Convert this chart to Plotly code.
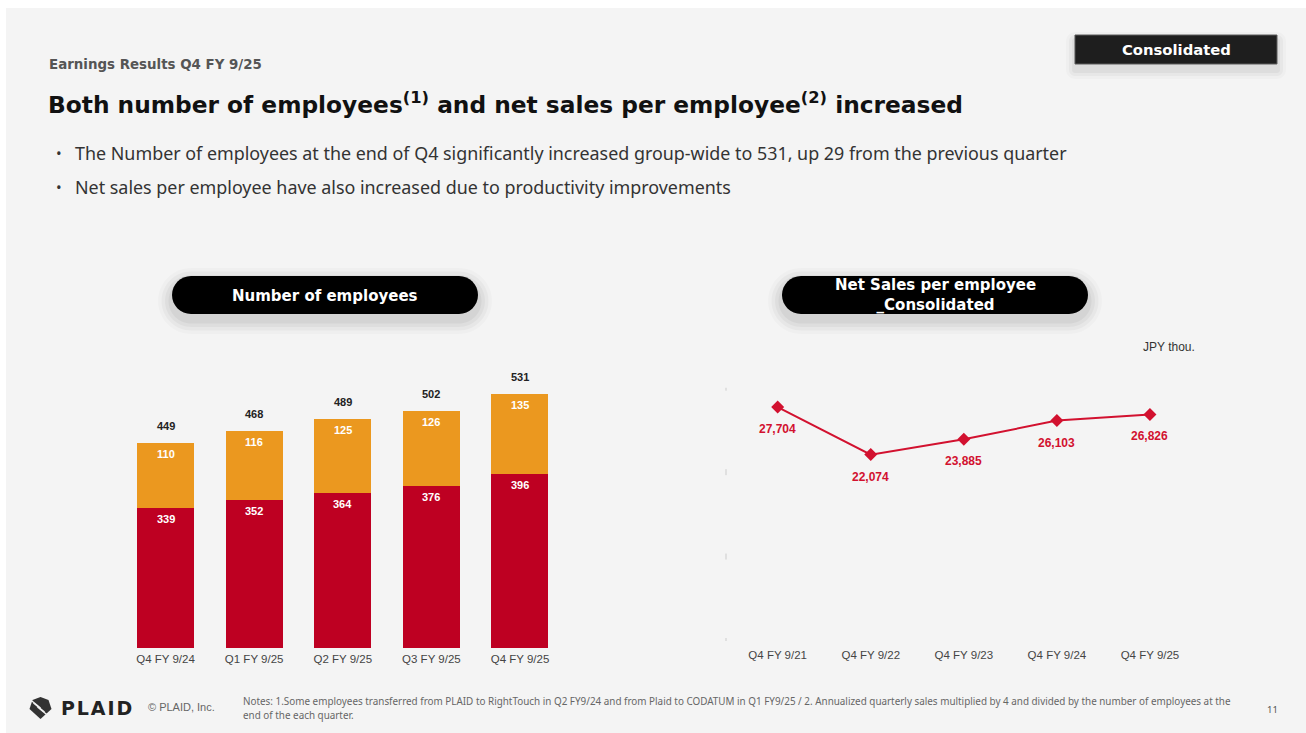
import plotly.graph_objects as go

W, H = 1306, 733

# Number of employees (stacked)
quarters = ["Q4 FY 9/24", "Q1 FY 9/25", "Q2 FY 9/25", "Q3 FY 9/25", "Q4 FY 9/25"]
employees_lower = [339, 352, 364, 376, 396]
employees_upper = [110, 116, 125, 126, 135]
employees_total = [449, 468, 489, 502, 531]

# Net sales per employee, JPY thousand
years = ["Q4 FY 9/21", "Q4 FY 9/22", "Q4 FY 9/23", "Q4 FY 9/24", "Q4 FY 9/25"]
sales_per_employee = [27704, 22074, 23885, 26103, 26826]
sales_ticks = [0, 10000, 20000, 30000]

RED = "#BE0022"
ORANGE = "#EB981F"
LINE_RED = "#D2112F"
BODY_FONT = "Noto Sans"
HEAD_FONT = "DejaVu Sans"
CHART_FONT = "Liberation Sans, Arial, sans-serif"


def px(x):
    return x / W


def py(y):
    return 1 - y / H


def rounded_rect(x0, y0, x1, y1, r):
    """SVG path (paper coords) for a rounded rectangle given in pixels."""
    k = 0.5523 * r
    pts = [
        ("M", [(x0 + r, y0)]),
        ("L", [(x1 - r, y0)]),
        ("C", [(x1 - r + k, y0), (x1, y0 + r - k), (x1, y0 + r)]),
        ("L", [(x1, y1 - r)]),
        ("C", [(x1, y1 - r + k), (x1 - r + k, y1), (x1 - r, y1)]),
        ("L", [(x0 + r, y1)]),
        ("C", [(x0 + r - k, y1), (x0, y1 - r + k), (x0, y1 - r)]),
        ("L", [(x0, y0 + r)]),
        ("C", [(x0, y0 + r - k), (x0 + r - k, y0), (x0 + r, y0)]),
    ]
    out = []
    for cmd, ps in pts:
        out.append(cmd + " ".join(f"{px(a):.5f},{py(b):.5f}" for a, b in ps))
    return " ".join(out) + " Z"


def shadowed_box(shapes, x0, y0, x1, y1, r, fill, border=None, spread=14, alphas=(0.02, 0.03, 0.035, 0.045)):
    # soft drop shadow built from a few translucent layers
    n = len(alphas)
    for i, a in enumerate(alphas):
        g = spread * (n - i) / n
        shapes.append(dict(type="path", xref="paper", yref="paper",
                           path=rounded_rect(x0 - g, y0 - g + 6, x1 + g, y1 + g + 6, r + g),
                           fillcolor=f"rgba(0,0,0,{a})", line=dict(width=0), layer="above"))
    shapes.append(dict(type="path", xref="paper", yref="paper",
                       path=rounded_rect(x0, y0, x1, y1, r), fillcolor=fill,
                       line=dict(width=1 if border else 0, color=border or fill), layer="above"))


fig = go.Figure()

fig.add_trace(go.Bar(x=quarters, y=employees_lower, marker=dict(color=RED, line=dict(width=0)),
                     xaxis="x", yaxis="y", hoverinfo="skip"))
fig.add_trace(go.Bar(x=quarters, y=employees_upper, marker=dict(color=ORANGE, line=dict(width=0)),
                     xaxis="x", yaxis="y", hoverinfo="skip"))

fig.add_trace(go.Scatter(x=years, y=sales_per_employee, mode="lines+markers",
                         line=dict(color=LINE_RED, width=2),
                         marker=dict(symbol="diamond", size=10, color=LINE_RED),
                         xaxis="x2", yaxis="y2", hoverinfo="skip"))

annotations = []

# Segment and total labels on the bars
for q, lo, up, tot in zip(quarters, employees_lower, employees_upper, employees_total):
    annotations.append(dict(x=q, y=lo, xref="x", yref="y", text=f"<b>{lo}</b>", showarrow=False,
                            yshift=-11, font=dict(family=CHART_FONT, size=11, color="white")))
    annotations.append(dict(x=q, y=lo + up, xref="x", yref="y", text=f"<b>{up}</b>", showarrow=False,
                            yshift=-11, font=dict(family=CHART_FONT, size=11, color="white")))
    annotations.append(dict(x=q, y=tot, xref="x", yref="y", text=f"<b>{tot}</b>", showarrow=False,
                            yshift=17, font=dict(family=CHART_FONT, size=11, color="#222222")))

# Value labels under the line points
for yr, v in zip(years, sales_per_employee):
    annotations.append(dict(x=yr, y=v, xref="x2", yref="y2", text=f"<b>{v:,}</b>", showarrow=False,
                            yshift=-22, font=dict(family=CHART_FONT, size=12, color=LINE_RED)))


def text(x, y, s, size, color, family=BODY_FONT, xanchor="left", bold=False):
    annotations.append(dict(x=px(x), y=py(y), xref="paper", yref="paper", text=f"<b>{s}</b>" if bold else s,
                            showarrow=False, xanchor=xanchor, yanchor="middle",
                            font=dict(family=family, size=size, color=color)))


text(47, 65, "Earnings Results Q4 FY 9/25", 13.4, "#555555", HEAD_FONT, bold=True)
text(46, 103, "Both number of employees<sup>(1)</sup> and net sales per employee<sup>(2)</sup> increased",
     23.3, "#111111", HEAD_FONT, bold=True)
text(54, 153, "•", 15, "#333333")
text(73, 153, "The Number of employees at the end of Q4 significantly increased group-wide to 531, up 29 from the previous quarter",
     17.9, "#333333")
text(54, 187, "•", 15, "#333333")
text(73, 187, "Net sales per employee have also increased due to productivity improvements", 17.9, "#333333")
text(1197, 347, "JPY thou.", 12, "#333333", CHART_FONT, xanchor="right")

text(146, 707, "© PLAID, Inc.", 11, "#666666", CHART_FONT)
text(241, 701, "Notes: 1.Some employees transferred from PLAID to RightTouch in Q2 FY9/24 and from Plaid to CODATUM in Q1 FY9/25 / 2. Annualized quarterly sales multiplied by 4 and divided by the number of employees at the",
     9.9, "#666666")
text(241, 715, "end of the each quarter.", 9.9, "#666666")
text(1272, 709, "11", 9.5, "#555555", xanchor="center")
text(59, 708, "P\u200aL\u200aA\u200aI\u200aD", 19, "#222222", HEAD_FONT, bold=True)

shapes = []
# slide panel
shapes.append(dict(type="rect", xref="paper", yref="paper", x0=px(6), x1=1, y0=0, y1=py(8),
                   fillcolor="#F4F4F4", line=dict(width=0), layer="below"))

# header badges
shadowed_box(shapes, 172, 276, 478, 314, 19, "#000000")
shadowed_box(shapes, 782, 276, 1088, 314, 19, "#000000")
shadowed_box(shapes, 1075, 35, 1277, 64, 0.01, "#1E1E1E", border="#5A5A5A", spread=9,
             alphas=(0.02, 0.03, 0.04))

text(325, 296, "Number of employees", 15, "white", HEAD_FONT, xanchor="center", bold=True)
annotations.append(dict(x=px(935), y=py(295), xref="paper", yref="paper",
                        text="<b>Net Sales per employee</b><br><b>_Consolidated</b>", showarrow=False,
                        xanchor="center", yanchor="middle", align="center",
                        font=dict(family=HEAD_FONT, size=15, color="white")))
text(1176, 49.5, "Consolidated", 14.8, "white", HEAD_FONT, xanchor="center", bold=True)

# small axis tick marks on the line chart
for t in sales_ticks:
    shapes.append(dict(type="line", xref="paper", yref="y2", x0=px(726), x1=px(726),
                       ysizemode="pixel", yanchor=t, y0=-3, y1=3,
                       line=dict(color="#CCCCCC", width=1)))

# logo mark
cx, cy = 40.5, 708
shapes.append(dict(type="path", xref="paper", yref="paper",
                   path=(f"M{px(cx)},{py(cy + 11)} L{px(cx - 11)},{py(cy + 1)} L{px(cx - 8)},{py(cy - 8)} "
                         f"L{px(cx)},{py(cy - 11)} L{px(cx + 8)},{py(cy - 8)} L{px(cx + 11)},{py(cy + 1)} Z"),
                   fillcolor="#333333", line=dict(width=0)))
for d in (-4, 0, 4):
    shapes.append(dict(type="line", xref="paper", yref="paper",
                       x0=px(cx - 7 + d), y0=py(cy - 5 + d), x1=px(cx + 4 + d), y1=py(cy + 4 + d),
                       line=dict(color="#F4F4F4", width=1.3)))

fig.update_layout(
    width=W, height=H, autosize=False,
    margin=dict(l=0, r=0, t=0, b=0),
    paper_bgcolor="white", plot_bgcolor="rgba(0,0,0,0)",
    barmode="stack", bargap=0.357, showlegend=False,
    font=dict(family=CHART_FONT, color="#333333"),
    xaxis=dict(domain=[px(121.2), px(564.3)], type="category", showgrid=False, showline=False,
               zeroline=False, ticks="", ticklabelstandoff=2,
               tickfont=dict(size=11.5, color="#444444"), fixedrange=True),
    yaxis=dict(domain=[py(648), py(370)], range=[101, 572], visible=False, fixedrange=True),
    xaxis2=dict(domain=[px(726), px(1196.5)], type="category", range=[-0.555, 4.5], showgrid=False,
                showline=False, zeroline=False, ticks="", ticklabelstandoff=5,
                tickfont=dict(size=11.5, color="#444444"), anchor="y2", fixedrange=True),
    yaxis2=dict(domain=[py(641), py(387.7)], range=[0, 30000], visible=False, anchor="x2", fixedrange=True),
    annotations=annotations,
    shapes=shapes,
)

fig.write_html("out.html", config=dict(displayModeBar=False))
